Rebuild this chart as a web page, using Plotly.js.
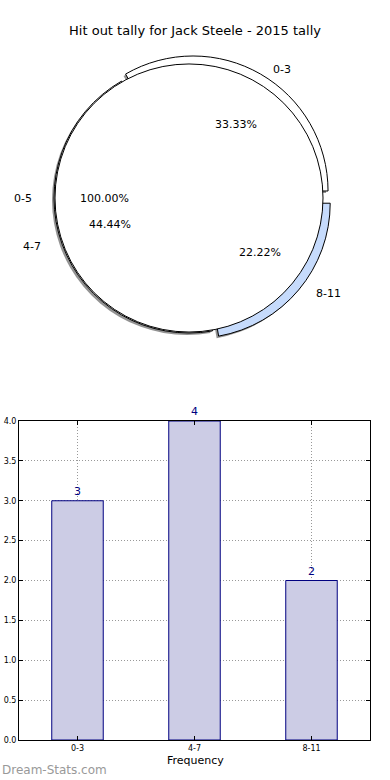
<!DOCTYPE html>
<html>
<head>
<meta charset="utf-8">
<script src="https://cdn.plot.ly/plotly-3.0.1.min.js"></script>
<style>
  html, body { margin: 0; padding: 0; background: #fff; }
  #chart { width: 390px; height: 780px; }
</style>
</head>
<body>
<div id="chart"></div>
<script>
// ---- data ----
const chartTitle = 'Hit out tally for Jack Steele - 2015 tally';
const categories = ['0-3', '4-7', '8-11'];
const counts = [3, 4, 2];
const totalLabels = ['0-5'];
const totalValues = [9];
const xAxisTitle = 'Frequency';
const watermark = 'Dream-Stats.com';

// ---- styling / geometry ----
const W = 390, H = 780;
const FONT = 'DejaVu Sans, sans-serif';
const sliceColors = ['#ffffff', '#ffffff', 'rgb(198,219,252)'];
const pulls = [0.06, 0, 0.06];
const cx = 189, cy = 198, r = 135;
const maxPull = Math.max(...pulls);
// label ellipse (matches reference text placement)
const rx = 141, ry = 128;

function dom(x0, y0, half) {
  return {
    x: [(x0 - half) / W, (x0 + half) / W],
    y: [1 - (y0 + half) / H, 1 - (y0 - half) / H]
  };
}

const totalCount = counts.reduce((a, b) => a + b, 0);
// first slice starts at 3 o'clock and runs counterclockwise
const pieRotation = 90 - 360 * counts[0] / totalCount;
const halfPulled = r * (1 + maxPull);

const shadowPie = {
  type: 'pie', labels: categories, values: counts, sort: false,
  direction: 'counterclockwise', rotation: pieRotation, pull: pulls,
  marker: { colors: categories.map(() => 'rgba(100,100,100,0.7)'), line: { width: 0 } },
  textinfo: 'none', hoverinfo: 'skip', showlegend: false,
  domain: dom(cx - 2, cy + 2, halfPulled)
};
const mainPie = {
  type: 'pie', labels: categories, values: counts, sort: false,
  direction: 'counterclockwise', rotation: pieRotation, pull: pulls,
  marker: { colors: sliceColors, line: { color: '#000', width: 1 } },
  textinfo: 'none', hoverinfo: 'skip', showlegend: false,
  domain: dom(cx, cy, halfPulled)
};
const overlayPie = {
  type: 'pie', labels: totalLabels, values: totalValues, sort: false,
  direction: 'counterclockwise', rotation: 90,
  marker: { colors: ['#ffffff'], line: { color: '#000', width: 1 } },
  textinfo: 'none', hoverinfo: 'skip', showlegend: false,
  domain: dom(cx, cy, r - 1)
};

const bars = {
  type: 'bar', x: categories, y: counts,
  width: 0.44,
  marker: { color: 'rgb(204,204,229)', line: { color: '#000080', width: 1 } },
  text: counts.map(String), textposition: 'outside', cliponaxis: false,
  textfont: { family: FONT, size: 11, color: '#000080' },
  hoverinfo: 'skip', showlegend: false,
  xaxis: 'x', yaxis: 'y'
};

// ---- pie labels computed from values ----
const annotations = [];
function addPieLabels(labels, values, pl) {
  const total = values.reduce((a, b) => a + b, 0);
  let start = 0;
  values.forEach((v, i) => {
    const mid = (start + v / 2) / total * 2 * Math.PI;
    start += v;
    const e = pl ? pl[i] : 0;
    const c = Math.cos(mid), s = Math.sin(mid);
    const lx = cx + rx * (1.1 + e) * c, ly = cy - ry * (1.1 + e) * s;
    const px = cx + rx * (0.6 + e) * c, py = cy - ry * (0.6 + e) * s;
    annotations.push({
      text: labels[i], xref: 'paper', yref: 'paper', x: lx / W, y: 1 - ly / H,
      xanchor: c > 0 ? 'left' : 'right', yanchor: 'middle', showarrow: false,
      font: { family: FONT, size: 11, color: '#000' }
    });
    annotations.push({
      text: (v / total * 100).toFixed(2) + '%', xref: 'paper', yref: 'paper',
      x: px / W, y: 1 - py / H, xanchor: 'center', yanchor: 'middle', showarrow: false,
      font: { family: FONT, size: 11, color: '#000' }
    });
  });
}
addPieLabels(categories, counts, pulls);
addPieLabels(totalLabels, totalValues, null);

annotations.push({
  text: xAxisTitle, xref: 'paper', yref: 'paper', x: 195 / W, y: 1 - 760 / H,
  xanchor: 'center', yanchor: 'middle', showarrow: false,
  font: { family: FONT, size: 11, color: '#000' }
});
annotations.push({
  text: watermark, xref: 'paper', yref: 'paper', x: 0, y: 1 - 770 / H,
  xanchor: 'left', yanchor: 'middle', showarrow: false,
  font: { family: FONT, size: 12, color: '#999' }
});

const axisCommon = {
  showline: true, linecolor: '#000', linewidth: 1, mirror: 'ticks',
  ticks: 'inside', ticklen: 4, tickcolor: '#000',
  showgrid: true, gridcolor: '#999', griddash: '1px,2px', gridwidth: 1,
  zeroline: false, fixedrange: true,
  tickfont: { family: FONT, size: 8, color: '#000' }
};

const layout = {
  width: W, height: H,
  margin: { l: 0, r: 0, t: 0, b: 0 },
  paper_bgcolor: '#fff', plot_bgcolor: '#fff',
  title: {
    text: chartTitle, x: 0.5, xanchor: 'center', xref: 'paper',
    y: 1 - 30 / H, yref: 'container', yanchor: 'middle',
    font: { family: FONT, size: 13, color: '#000' }
  },
  xaxis: Object.assign({}, axisCommon, {
    domain: [19 / W, 370 / W], range: [-0.5, 2.5], type: 'category'
  }),
  yaxis: Object.assign({}, axisCommon, {
    domain: [40 / H, 359 / H], range: [0, 4], dtick: 0.5, tick0: 0, tickformat: '.1f'
  }),
  annotations: annotations,
  showlegend: false
};

Plotly.newPlot('chart', [shadowPie, mainPie, overlayPie, bars], layout, { staticPlot: true, displayModeBar: false });
</script>
</body>
</html>
